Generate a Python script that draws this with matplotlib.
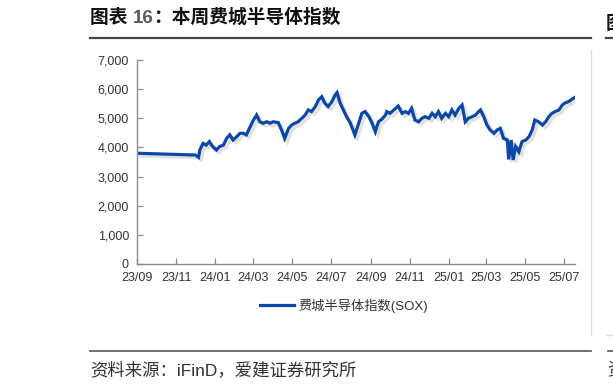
import matplotlib
matplotlib.use("Agg")
import matplotlib.pyplot as plt
import matplotlib.dates as mdates
import matplotlib.patheffects as pe
from matplotlib.lines import Line2D
from matplotlib.ticker import FuncFormatter
import pandas as pd

# ---------------- data ----------------
dates = ["2023-09-01", "2023-12-01", "2023-12-06", "2023-12-08", "2023-12-13", "2023-12-18", "2023-12-23", "2023-12-28",
         "2024-01-03", "2024-01-08", "2024-01-14", "2024-01-19", "2024-01-24", "2024-01-29",
         "2024-02-04", "2024-02-09", "2024-02-14", "2024-02-19", "2024-02-25",
         "2024-03-01", "2024-03-06", "2024-03-11", "2024-03-16", "2024-03-22", "2024-03-27",
         "2024-04-01", "2024-04-09", "2024-04-14", "2024-04-19", "2024-04-25", "2024-04-30",
         "2024-05-05", "2024-05-10", "2024-05-16", "2024-05-21", "2024-05-26", "2024-05-31",
         "2024-06-06", "2024-06-11", "2024-06-16", "2024-06-21", "2024-06-26",
         "2024-07-02", "2024-07-07", "2024-07-10", "2024-07-15", "2024-07-20", "2024-07-25", "2024-07-31",
         "2024-08-07", "2024-08-13", "2024-08-18", "2024-08-23", "2024-08-29",
         "2024-09-03", "2024-09-08", "2024-09-13", "2024-09-18", "2024-09-24", "2024-09-26",
         "2024-10-01", "2024-10-07", "2024-10-14", "2024-10-20", "2024-10-25", "2024-10-30",
         "2024-11-04", "2024-11-09", "2024-11-15", "2024-11-20", "2024-11-25",
         "2024-12-01", "2024-12-06", "2024-12-11", "2024-12-16", "2024-12-21", "2024-12-27",
         "2025-01-01", "2025-01-06", "2025-01-11", "2025-01-17", "2025-01-22", "2025-01-27",
         "2025-02-01", "2025-02-07", "2025-02-12", "2025-02-17", "2025-02-20", "2025-02-25",
         "2025-03-02", "2025-03-07", "2025-03-13", "2025-03-18", "2025-03-23", "2025-03-28",
         "2025-04-03", "2025-04-05", "2025-04-09", "2025-04-12", "2025-04-16", "2025-04-21", "2025-04-26",
         "2025-05-02", "2025-05-07", "2025-05-12", "2025-05-16", "2025-05-22", "2025-05-28",
         "2025-06-02", "2025-06-07", "2025-06-12", "2025-06-17", "2025-06-23", "2025-06-28",
         "2025-07-03", "2025-07-08", "2025-07-13", "2025-07-18"]

sox = [3800, 3740, 3660, 3910, 4140, 4080, 4200, 4030,
       3910, 4030, 4080, 4310, 4430, 4255,
       4370, 4485, 4485, 4430, 4710,
       4940, 5110, 4880, 4830, 4880, 4830,
       4880, 4850, 4600, 4310, 4650, 4770,
       4830, 4880, 5000, 5110, 5285, 5230,
       5400, 5630, 5740, 5515, 5400,
       5570, 5800, 5880, 5515, 5285, 5055, 4830,
       4430, 4830, 5170, 5230, 5055,
       4830, 4540, 4880, 4960, 5110, 5230,
       5170, 5285, 5420, 5170, 5230, 5170,
       5340, 4940, 4880, 5000, 5055,
       5000, 5170, 5055, 5230, 5000, 5170,
       5055, 5285, 5110, 5340, 5455, 4880,
       5000, 5055, 5110, 5230, 5285, 5055,
       4770, 4600, 4485, 4600, 4655, 4310,
       4255, 3590, 4255, 3570, 4030, 3850, 4200,
       4255, 4370, 4600, 4940, 4880, 4770,
       4880, 5055, 5170, 5230, 5285, 5455,
       5535, 5570, 5650, 5720]

y_ticks = [0, 1000, 2000, 3000, 4000, 5000, 6000, 7000]
x_start = "2023-09-01"

title_parts = ["图表 ", "16", "：本周费城半导体指数"]
series_name = "费城半导体指数(SOX)"
source_text = "资料来源：iFinD，爱建证券研究所"

# ---------------- style ----------------
FAM = ["Liberation Sans", "Noto Sans CJK SC", "DejaVu Sans"]
plt.rcParams["font.family"] = FAM
LINE_C = "#0B47A8"
AX_C = "#8C8C8C"
TXT_C = "#333333"

W, H = 613, 391
fig = plt.figure(figsize=(W / 100, H / 100), dpi=100)
fig.patch.set_facecolor("white")

def fx(px):
    return px / W

def fy(py):
    return 1 - py / H

ax = fig.add_axes([fx(137.3), fy(264), fx(575) - fx(137.3), fy(60) - fy(264)])

x = pd.to_datetime(dates)
ax.plot(x, sox, color=LINE_C, lw=2.3, solid_joinstyle="miter",
        path_effects=[pe.SimpleLineShadow(offset=(2, -2), shadow_color="#888888", alpha=0.25),
                      pe.Normal()])

ax.set_xlim(pd.Timestamp(x_start), x[-1])
ax.set_ylim(y_ticks[0], y_ticks[-1])
ax.set_yticks(y_ticks)
ax.yaxis.set_major_formatter(FuncFormatter(lambda v, p: f"{int(v):,}"))
ax.xaxis.set_major_locator(mdates.MonthLocator(bymonth=[1, 3, 5, 7, 9, 11]))
ax.xaxis.set_major_formatter(mdates.DateFormatter("%y/%m"))

for s in ["top", "right"]:
    ax.spines[s].set_visible(False)
for s in ["left", "bottom"]:
    ax.spines[s].set_color(AX_C)
    ax.spines[s].set_linewidth(1.0)
ax.tick_params(axis="both", direction="in", length=4, width=0.9, color=AX_C,
               labelsize=9, labelcolor=TXT_C)
ax.tick_params(axis="y", pad=6)
ax.tick_params(axis="x", pad=6)
ax.set_facecolor("white")

# legend
leg_handle = Line2D([], [], color=LINE_C, lw=2.3)
fig.legend([leg_handle], [series_name], loc="center",
           bbox_to_anchor=(fx(344), fy(306)), frameon=False,
           fontsize=9.5, handlelength=2.6, handletextpad=0.3,
           labelcolor=TXT_C)

# title
t0 = fig.text(fx(90), fy(23), title_parts[0], fontsize=13.5, fontweight="bold",
              color="#111111", va="baseline", ha="left")
ann1 = fig.add_artist(matplotlib.text.Annotation(
    title_parts[1], xy=(1, 0), xycoords=t0, va="bottom", ha="left",
    fontsize=13.5, fontweight="bold", color="#5A5A5A", annotation_clip=False))
ann2 = fig.add_artist(matplotlib.text.Annotation(
    title_parts[2], xy=(1, 0), xycoords=ann1, va="bottom", ha="left",
    fontsize=13.5, fontweight="bold", color="#111111", annotation_clip=False))

# decorative frame lines
fig.add_artist(Line2D([fx(90), fx(590.7)], [fy(37.5), fy(37.5)], color="#444444", lw=1.6))
fig.add_artist(Line2D([fx(606), fx(613)], [fy(37.5), fy(37.5)], color="#444444", lw=1.6))
fig.add_artist(Line2D([fx(90), fx(590.7)], [fy(350.5), fy(350.5)], color="#555555", lw=1.2))
fig.add_artist(Line2D([fx(608), fx(613)], [fy(350.5), fy(350.5)], color="#555555", lw=1.2))
fig.add_artist(Line2D([fx(590.7), fx(590.7)], [fy(50), fy(335)], color="#D9D9D9", lw=0.9))
fig.add_artist(Line2D([fx(606), fx(613)], [fy(335), fy(335)], color="#D9D9D9", lw=0.9))

# neighbouring chart fragments at the right edge (cut off as in the reference)
fig.text(fx(606), fy(29), "图", fontsize=13.5, fontweight="bold", color="#111111",
         va="baseline", ha="left")
fig.text(fx(607), fy(375), "资", fontsize=12.5, color=TXT_C, va="baseline", ha="left")

# source
fig.text(fx(90), fy(375), source_text, fontsize=12.5, color=TXT_C, va="baseline", ha="left")

fig.savefig("out.png", dpi=100, facecolor="white")
